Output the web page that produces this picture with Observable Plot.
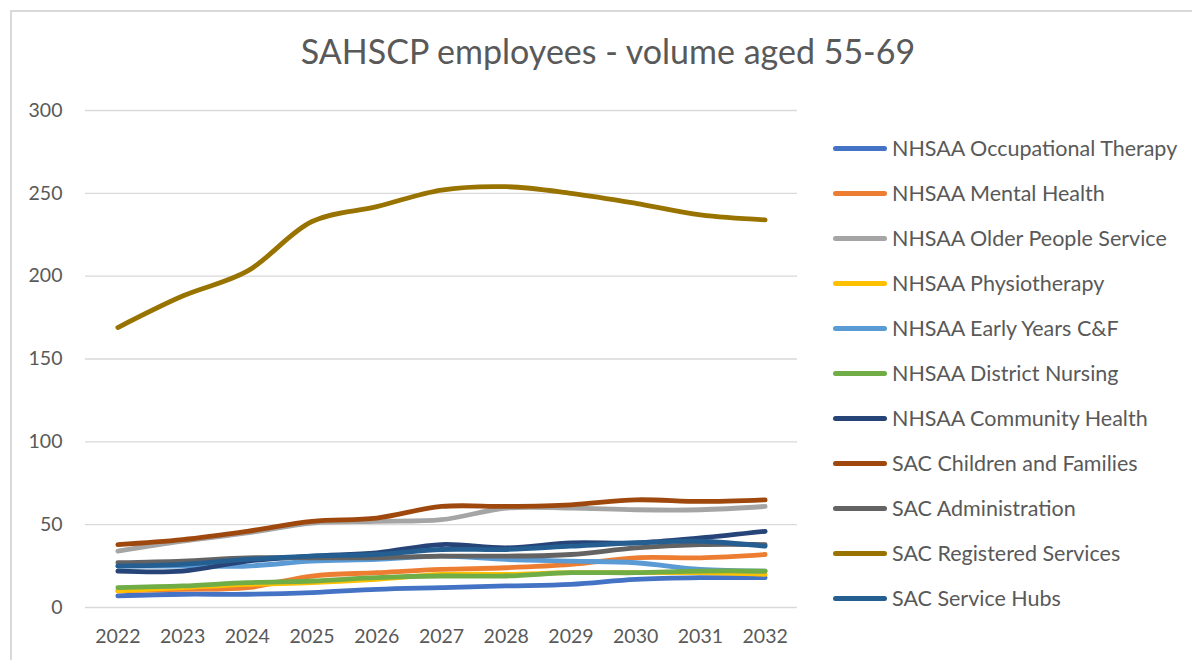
<!DOCTYPE html>
<html>
<head>
<meta charset="utf-8">
<script src="https://cdn.jsdelivr.net/npm/d3@7"></script>
<script src="https://cdn.jsdelivr.net/npm/@observablehq/plot@0.6"></script>
<style>
  html, body { margin: 0; padding: 0; background: #fff; overflow: hidden; }
  #wrap { position: relative; width: 1192px; height: 660px; overflow: hidden; font-family: Lato, "Open Sans", sans-serif; color: #595959; }
  #border { position: absolute; left: 10px; top: 10px; width: 1250px; height: 750px; border: 2px solid #d9d9d9; box-sizing: border-box; }
  #chart { position: absolute; left: 0; top: 0; }
  #title { position: absolute; left: 0; width: 1216px; top: 30px; text-align: center; font-size: 34px; color: #595959; }
  #legend { position: absolute; left: 833px; top: 0; }
  .item { position: absolute; left: 0; white-space: nowrap; font-size: 21.5px; color: #595959; display: flex; align-items: center; }
  .sw { width: 54px; height: 5px; border-radius: 3px; margin-right: 5px; }
</style>
</head>
<body>
<div id="wrap">
  <div id="border"></div>
  <div id="chart"></div>
  <div id="title">SAHSCP employees - volume aged 55-69</div>
  <div id="legend"></div>
</div>
<script>
const years = [2022, 2023, 2024, 2025, 2026, 2027, 2028, 2029, 2030, 2031, 2032];
const seriesNames = [
  "NHSAA Occupational Therapy",
  "NHSAA Mental Health",
  "NHSAA Older People Service",
  "NHSAA Physiotherapy",
  "NHSAA Early Years C&F",
  "NHSAA District Nursing",
  "NHSAA Community Health",
  "SAC Children and Families",
  "SAC Administration",
  "SAC Registered Services",
  "SAC Service Hubs"
];
const seriesColors = ["#4472C4", "#ED7D31", "#A5A5A5", "#FFC000", "#5B9BD5", "#70AD47", "#264478", "#9E480E", "#636363", "#997300", "#255E91"];
const occupationalTherapy = [7, 8, 8, 9, 11, 12, 13, 14, 17, 18, 18];
const mentalHealth        = [10, 11, 12, 19, 21, 23, 24, 26, 30, 30, 32];
const olderPeople         = [34, 40, 45, 51, 52, 53, 60, 60, 59, 59, 61];
const physiotherapy       = [10, 12, 14, 15, 17, 20, 20, 21, 21, 21, 20];
const earlyYears          = [25, 25, 25, 28, 29, 31, 29, 28, 27, 23, 22];
const districtNursing     = [12, 13, 15, 16, 18, 19, 19, 21, 21, 22, 22];
const communityHealth     = [22, 22, 28, 31, 33, 38, 36, 39, 39, 42, 46];
const childrenFamilies    = [38, 41, 46, 52, 54, 61, 61, 62, 65, 64, 65];
const administration      = [27, 28, 30, 30, 30, 31, 31, 32, 36, 38, 38];
const registeredServices  = [169, 188, 203, 233, 242, 252, 254, 250, 244, 237, 234];
const serviceHubs         = [25, 26, 29, 31, 32, 35, 35, 37, 39, 40, 37];
const yTicks = [0, 50, 100, 150, 200, 250, 300];

const seriesValues = [occupationalTherapy, mentalHealth, olderPeople, physiotherapy, earlyYears, districtNursing, communityHealth, childrenFamilies, administration, registeredServices, serviceHubs];

const rows = [];
seriesNames.forEach((name, i) => {
  years.forEach((yr, j) => rows.push({series: name, year: yr, value: seriesValues[i][j]}));
});

const chart = Plot.plot({
  width: 800,
  height: 660,
  marginLeft: 85,
  marginRight: 3,
  marginTop: 110,
  marginBottom: 53,
  style: {fontFamily: "Lato, 'Open Sans', sans-serif", fontSize: "19.5px", color: "#595959", background: "transparent"},
  x: {type: "linear", domain: [2021.5, 2032.5], ticks: years, tickFormat: d => String(d), label: null, tickSize: 0, tickPadding: 22},
  y: {domain: [0, 300], ticks: yTicks, label: null, tickSize: 0, tickPadding: 23},
  color: {domain: seriesNames, range: seriesColors},
  marks: [
    Plot.gridY(yTicks, {stroke: "#d9d9d9", strokeOpacity: 1, strokeWidth: 1.3}),
    Plot.axisX({ticks: years, tickFormat: d => String(d), tickSize: 0, tickPadding: 22, fill: "#595959", fontSize: 19.5, label: null}),
    Plot.axisY({ticks: yTicks, tickSize: 0, tickPadding: 23, fill: "#595959", fontSize: 19.5, label: null}),
    Plot.line(rows, {x: "year", y: "value", z: "series", stroke: "series", strokeWidth: 4.8, curve: "catmull-rom", strokeLinecap: "round", strokeLinejoin: "round"})
  ]
});
document.getElementById("chart").appendChild(chart);

const legend = document.getElementById("legend");
seriesNames.forEach((name, i) => {
  const item = document.createElement("div");
  item.className = "item";
  item.style.top = (150 + i * 45 - 15) + "px";
  const sw = document.createElement("div");
  sw.className = "sw";
  sw.style.background = seriesColors[i];
  const tx = document.createElement("span");
  tx.textContent = name;
  item.appendChild(sw);
  item.appendChild(tx);
  legend.appendChild(item);
});
</script>
</body>
</html>
